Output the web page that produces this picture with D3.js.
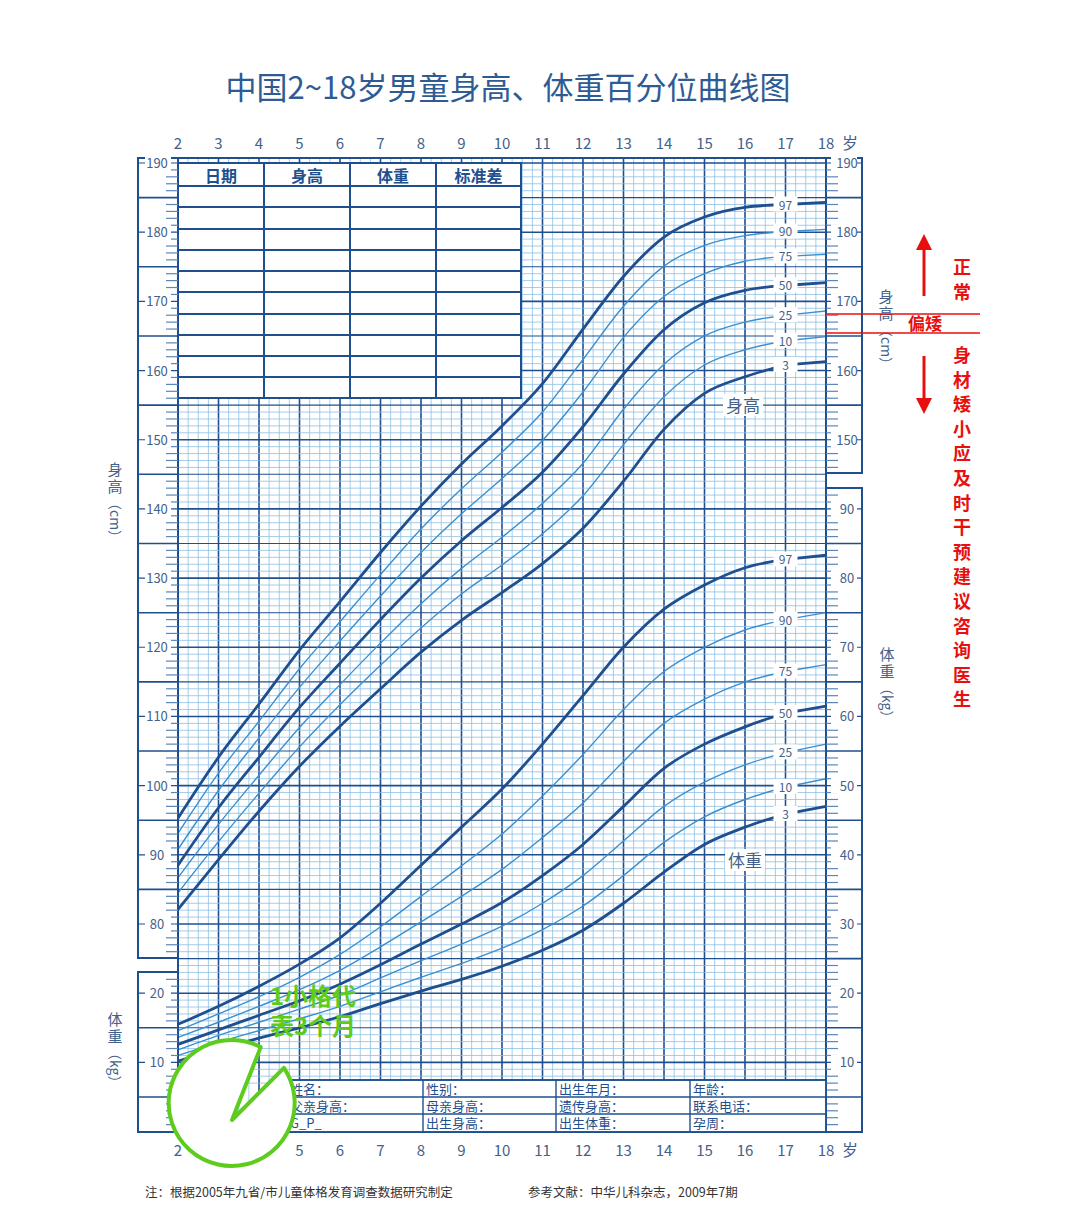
<!DOCTYPE html>
<html><head><meta charset="utf-8">
<script src="https://cdn.jsdelivr.net/npm/d3@7"></script>
<style>body{margin:0;background:#fff}svg text{font-family:"Noto Sans CJK SC","Noto Sans",sans-serif}</style>
</head><body><svg id="c" width="1080" height="1206"></svg>
<script>
const ages=[2,3,4,5,6,7,8,9,10,11,12,13,14,15,16,17,18];
const pcts=["3","10","25","50","75","90","97"];
const heightP={
"3":[82.1,89.3,96.3,102.8,108.6,114.0,119.3,123.9,127.9,132.1,137.2,144.0,151.5,156.7,159.1,160.8,161.3],
"10":[84.5,91.9,98.9,105.6,111.7,117.4,122.8,127.7,131.9,136.4,141.9,149.3,156.2,160.8,163.0,164.3,164.9],
"25":[86.7,94.4,101.5,108.4,114.6,120.6,126.3,131.4,135.9,140.8,146.6,154.4,160.9,165.0,167.0,168.0,168.6],
"50":[88.5,96.8,104.1,111.3,117.7,124.0,130.0,135.4,140.2,145.3,151.9,159.5,165.9,169.8,171.6,172.3,172.7],
"75":[90.8,99.3,106.9,114.2,120.9,127.4,133.7,139.3,144.4,149.9,156.9,164.8,170.7,174.0,175.8,176.5,176.8],
"90":[93.1,101.8,109.3,116.9,123.7,130.5,137.1,142.9,148.2,154.0,161.6,169.3,175.1,178.1,179.5,180.1,180.4],
"97":[95.3,104.1,111.8,119.6,126.6,133.7,140.4,146.5,152.0,158.1,166.0,173.6,179.3,182.2,183.6,184.0,184.3]};
const weightP={
"3":[10.2,11.9,13.5,15.0,16.6,18.5,20.3,22.0,23.9,26.2,29.1,33.0,37.5,41.5,44.0,45.9,47.0],
"10":[11.0,12.9,14.6,16.3,18.1,20.2,22.3,24.3,26.5,29.2,32.6,37.0,41.8,45.5,48.0,49.8,51.0],
"25":[11.8,13.9,15.8,17.7,19.7,22.2,24.7,27.1,29.7,33.0,37.0,42.0,47.0,50.5,53.0,54.8,56.0],
"50":[12.6,14.7,16.8,18.9,21.3,24.1,27.1,30.0,33.1,37.0,41.5,47.0,52.5,56.0,58.5,60.5,61.5],
"75":[13.6,15.8,18.1,20.5,23.3,26.7,30.3,34.0,37.9,42.5,47.5,53.5,59.0,62.5,65.0,66.5,67.5],
"90":[14.6,17.0,19.5,22.3,25.6,29.6,34.0,38.4,43.0,48.5,54.5,61.0,66.5,70.0,72.5,74.0,75.0],
"97":[15.5,18.1,21.0,24.2,28.0,33.0,38.5,44.0,49.5,56.0,63.0,70.0,75.5,79.0,81.5,82.7,83.3]};
const heightTicks=[80,90,100,110,120,130,140,150,160,170,180,190];
const heightTicksRight=[150,160,170,180,190];
const weightTicksLeft=[10,20];
const weightTicksRight=[10,20,30,40,50,60,70,80,90];
const tableHead=["日期","身高","体重","标准差"];
const infoRows=[["姓名：","性别：","出生年月：","年龄："],["父亲身高：","母亲身高：","遗传身高：","联系电话："],["G_P_","出生身高：","出生体重：","孕周："]];
const sideNote="身材矮小应及时干预建议咨询医生";

const DARK="#1f4f8f",GRID="#8dbfe3",THIN="#3a8fd0",LBL="#44618a";
const svg=d3.select("#c");
const x=d3.scaleLinear().domain([2,18]).range([178,826]);
const y=d3.scaleLinear().domain([80,190]).range([924,163]);
const yw=w=>y(w+50);
const yTop=158,yBot=1132;

const g=svg.append("g");
for(let i=0;i<=64;i++){
  const a=2+i*0.25, yr=i%4===0;
  g.append("line").attr("x1",x(a)).attr("x2",x(a)).attr("y1",yTop).attr("y2",yBot)
   .attr("stroke",yr?DARK:GRID).attr("stroke-width",yr?1.6:0.8);
}
for(let v=57;v<=190;v++){
  const yy=y(v); if(yy>yBot||yy<yTop) continue;
  const m5=v%5===0, m10=v%10===0;
  g.append("line").attr("x1",178).attr("x2",826).attr("y1",yy).attr("y2",yy)
   .attr("stroke",m5?DARK:GRID).attr("stroke-width",m10?1.6:(m5?1.1:0.8));
}
svg.append("rect").attr("x",178).attr("y",yTop).attr("width",648).attr("height",yBot-yTop).attr("fill","none").attr("stroke",DARK).attr("stroke-width",2);
for(let i=0;i<=64;i++){const a=2+i*0.25;svg.append("line").attr("x1",x(a)).attr("x2",x(a)).attr("y1",yBot-8).attr("y2",yBot).attr("stroke",DARK).attr("stroke-width",2);}

const tx=[178,264,350,436,521];
svg.append("rect").attr("x",178).attr("y",163).attr("width",343).attr("height",235).attr("fill","#fff").attr("stroke",DARK).attr("stroke-width",2);
[186,207,229,250,271,292,314,335,356,377].forEach(r=>svg.append("line").attr("x1",178).attr("x2",521).attr("y1",r).attr("y2",r).attr("stroke",DARK).attr("stroke-width",1.8));
tx.forEach(c=>svg.append("line").attr("x1",c).attr("x2",c).attr("y1",163).attr("y2",398).attr("stroke",DARK).attr("stroke-width",2));
tableHead.forEach((t,i)=>svg.append("text").attr("x",(tx[i]+tx[i+1])/2).attr("y",182).attr("text-anchor","middle").attr("font-size",16).attr("font-weight","bold").attr("fill",DARK).text(t));

const line=d3.line().x(d=>x(d[0])).y(d=>d[1]).curve(d3.curveMonotoneX);
function drawSet(data,fy){
  pcts.forEach(p=>{
    const thick=(p==="3"||p==="50"||p==="97");
    const pts=ages.slice(0,16).map((a,i)=>[a,fy(data[p][i])]);
    const st=thick?DARK:THIN, sw=thick?2.8:1.4;
    svg.append("path").attr("d",line(pts)).attr("fill","none").attr("stroke",st).attr("stroke-width",sw);
    const v17=data[p][15],v18=data[p][16];
    svg.append("line").attr("x1",x(17.25)).attr("x2",x(18)).attr("y1",fy(v17+(v18-v17)*0.25)).attr("y2",fy(v18)).attr("stroke",st).attr("stroke-width",sw);
    const ly=fy(v17);
    svg.append("rect").attr("x",x(17)-12).attr("y",ly-8).attr("width",24).attr("height",15).attr("fill","#fff");
    svg.append("text").attr("x",x(17)).attr("y",ly+5).attr("text-anchor","middle").attr("font-size",12).attr("fill",LBL).text(p);
  });
}
drawSet(heightP,y);
drawSet(weightP,yw);
[["身高",743,405],["体重",745,860]].forEach(([t,cx,cy])=>{
  svg.append("rect").attr("x",cx-20).attr("y",cy-11).attr("width",40).attr("height",22).attr("fill","#fff");
  svg.append("text").attr("x",cx).attr("y",cy+7).attr("text-anchor","middle").attr("font-size",17).attr("fill",LBL).text(t);
});

function strip(x0,x1,y0,y1,ticks,fy,right){
  svg.append("rect").attr("x",x0).attr("y",y0).attr("width",x1-x0).attr("height",y1-y0).attr("fill","#fff").attr("stroke",DARK).attr("stroke-width",2);
  const inner=right?x0:x1;
  for(let v=0;v<=200;v++){
    const yy=fy(v); if(yy<=y0+2||yy>=y1-2) continue;
    if(ticks.includes(v)) continue;
    if(v%5===0){svg.append("line").attr("x1",x0).attr("x2",x1).attr("y1",yy).attr("y2",yy).attr("stroke",DARK).attr("stroke-width",1.6);}
    else{svg.append("line").attr("x1",inner).attr("x2",right?inner+12:inner-12).attr("y1",yy).attr("y2",yy).attr("stroke","#5a86b8").attr("stroke-width",1.2);}
  }
  ticks.forEach(v=>{const yy=fy(v);
    svg.append("line").attr("x1",x0).attr("x2",x1).attr("y1",yy).attr("y2",yy).attr("stroke",DARK).attr("stroke-width",1.2);
    svg.append("rect").attr("x",(x0+x1)/2-13).attr("y",yy-8).attr("width",26).attr("height",16).attr("fill","#fff");
    svg.append("text").attr("x",(x0+x1)/2+(right?3:-1)).attr("y",yy+5).attr("text-anchor","middle").attr("font-size",13).attr("fill",LBL).text(v);
  });
}
strip(138,178,158,958,heightTicks,v=>y(v),false);
strip(138,178,972,1132,weightTicksLeft,v=>yw(v),false);
strip(826,862,158,473,heightTicksRight,v=>y(v),true);
strip(826,862,488,1132,weightTicksRight,v=>yw(v),true);

const ix=[287,423,556,690,826], iy=[1080,1097,1114,1132];
svg.append("rect").attr("x",287).attr("y",1080).attr("width",539).attr("height",52).attr("fill","#fff").attr("stroke",DARK).attr("stroke-width",1.6);
iy.forEach(r=>svg.append("line").attr("x1",287).attr("x2",826).attr("y1",r).attr("y2",r).attr("stroke",DARK).attr("stroke-width",1.4));
ix.forEach(c=>svg.append("line").attr("x1",c).attr("x2",c).attr("y1",1080).attr("y2",1132).attr("stroke",DARK).attr("stroke-width",1.4));
infoRows.forEach((row,r)=>row.forEach((t,i)=>svg.append("text").attr("x",ix[i]+3).attr("y",iy[r]+14).attr("font-size",13).attr("fill",DARK).text(t)));

ages.forEach(a=>{
  [149,1156].forEach(yy=>svg.append("text").attr("x",x(a)).attr("y",yy).attr("text-anchor","middle").attr("font-size",15).attr("fill",LBL).text(a));
});
[149,1156].forEach(yy=>svg.append("text").attr("x",850).attr("y",yy).attr("text-anchor","middle").attr("font-size",16).attr("fill",LBL).text("岁"));

function vtext(chars,cx,cy0,step,size,col,weight){
  chars.forEach((c,i)=>svg.append("text").attr("x",cx).attr("y",cy0+i*step).attr("text-anchor","middle").attr("font-size",size).attr("fill",col).attr("font-weight",weight||"normal").text(c));
}
vtext(["身","高"],115,475,17,15,LBL);
svg.append("text").attr("transform","translate(110,496) rotate(90)").attr("font-size",14).attr("fill",LBL).text("（cm）");
vtext(["体","重"],115,1025,17,15,LBL);
svg.append("text").attr("transform","translate(110,1046) rotate(90)").attr("font-size",14).attr("fill",LBL).text("（kg）");
vtext(["身","高"],886,302,17,15,LBL);
svg.append("text").attr("transform","translate(881,323) rotate(90)").attr("font-size",14).attr("fill",LBL).text("（cm）");
vtext(["体","重"],887,660,17,15,LBL);
svg.append("text").attr("transform","translate(882,681) rotate(90)").attr("font-size",14).attr("fill",LBL).text("（kg）");

svg.append("text").attr("x",508).attr("y",99).attr("text-anchor","middle").attr("font-size",31).attr("fill","#2f5b94").text("中国2~18岁男童身高、体重百分位曲线图");

const RED="#e8100f";
[314,333].forEach(r=>svg.append("line").attr("x1",826).attr("x2",980).attr("y1",r).attr("y2",r).attr("stroke",RED).attr("stroke-width",1.6));
svg.append("rect").attr("x",904).attr("y",315).attr("width",42).attr("height",17).attr("fill","#fff");
svg.append("text").attr("x",925).attr("y",330).attr("text-anchor","middle").attr("font-size",17).attr("font-weight","bold").attr("fill",RED).text("偏矮");
svg.append("line").attr("x1",924).attr("x2",924).attr("y1",296).attr("y2",246).attr("stroke",RED).attr("stroke-width",3);
svg.append("path").attr("d","M916,250 L924,234 L932,250 Z").attr("fill",RED);
svg.append("line").attr("x1",924).attr("x2",924).attr("y1",356).attr("y2",402).attr("stroke",RED).attr("stroke-width",3);
svg.append("path").attr("d","M916,398 L924,414 L932,398 Z").attr("fill",RED);
vtext(["正","常"],962,274,25,18,RED,"bold");
vtext(sideNote.split(""),962,362,24.6,18,RED,"bold");

svg.append("text").attr("x",145).attr("y",1197).attr("font-size",12.5).attr("fill","#333").text("注：根据2005年九省/市儿童体格发育调查数据研究制定");
svg.append("text").attr("x",528).attr("y",1197).attr("font-size",12.5).attr("fill","#333").text("参考文献：中华儿科杂志，2009年7期");

const GREEN="#5dcc1c";
const cx=313,cy=1012,r=63;
const a1=2.05,a2=2.55;
const p1=[cx+r*Math.cos(a1),cy+r*Math.sin(a1)],p2=[cx+r*Math.cos(a2),cy+r*Math.sin(a2)];
svg.append("path").attr("d",`M${p1[0]},${p1[1]} A${r},${r} 0 1 1 ${p2[0]},${p2[1]} L232,1120 Z`).attr("fill","#fff").attr("stroke",GREEN).attr("stroke-width",4).attr("stroke-linejoin","round");
svg.append("text").attr("x",cx).attr("y",1005).attr("text-anchor","middle").attr("font-size",24).attr("font-weight","bold").attr("fill",GREEN).text("1小格代");
svg.append("text").attr("x",cx).attr("y",1035).attr("text-anchor","middle").attr("font-size",24).attr("font-weight","bold").attr("fill",GREEN).text("表3个月");
</script></body></html>
